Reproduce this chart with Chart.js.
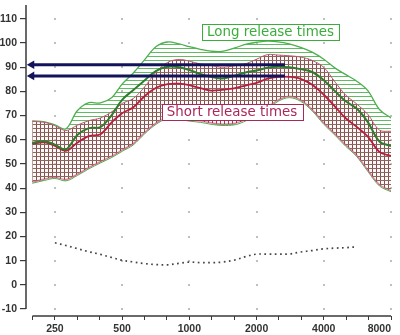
<!DOCTYPE html>
<html>
<head>
<meta charset="utf-8">
<script src="https://cdn.jsdelivr.net/npm/chart.js@4.4.1/dist/chart.umd.min.js"></script>
<style>
  html, body { margin: 0; padding: 0; background: #fff; }
  #wrap { width: 400px; height: 335px; position: relative; }
</style>
</head>
<body>
<div id="wrap"><canvas id="chart"></canvas></div>
<script>
// frequency grid (Hz), roughly 1/6 octave
const FREQ = [198, 225, 250, 280, 315, 355, 400, 450, 500, 560, 630, 710, 800, 900, 1000, 1120, 1250, 1400,
  1600, 1800, 2000, 2240, 2500, 2800, 3150, 3550, 4000, 4500, 5000, 5600, 6300, 7100, 8000];

// long release times band + median
const LONG_UPPER = [67.8, 67.4, 66.2, 64.5, 72, 75.3, 75.2, 77.5, 83, 87.5, 93, 98.5, 100.4, 99.6, 98.5, 97.4, 96.6, 96.5,
  98, 99.5, 100.3, 100.8, 100.5, 99.6, 98.2, 96.2, 93.3, 89.6, 87, 84.3, 80.3, 72.5, 69];
const LONG_LOWER = [42, 43.2, 44, 43, 45.2, 48, 50.4, 52.7, 55.2, 57.8, 62.4, 66.4, 68.7, 68.4, 67.7, 67.2, 66.4, 65.9,
  66.2, 67.9, 70.4, 72.9, 75.9, 77.4, 75.9, 71.9, 66.4, 61.8, 57.4, 53.2, 46.9, 40.9, 38.5];
const LONG_MEDIAN = [58.7, 59.4, 58, 56, 62, 64.8, 65.2, 70.3, 76.5, 80.5, 84.5, 88.5, 90.2, 90, 88.8, 87.2, 86, 85.3,
  86.5, 87.9, 88.6, 89.8, 90.2, 90, 89.2, 88, 84.6, 80, 76, 73, 67.3, 59.3, 57.4];

// short release times band + median
const SHORT_UPPER = [67.6, 67.2, 65.8, 63.8, 66, 67.9, 69, 71.6, 75, 77, 81.8, 88, 92, 93.2, 92.5, 91.3, 90.7, 90,
  90.6, 91.5, 93.3, 95.2, 95, 94.7, 94.2, 92.8, 89.9, 83.8, 78.6, 74.9, 70.5, 64, 63.5];
const SHORT_LOWER = [42.5, 43.8, 44.5, 43.6, 45.8, 48.6, 51, 53.3, 55.8, 58.4, 63, 67, 69.3, 69, 68.3, 67.8, 67, 66.5,
  66.8, 68.5, 71, 73.5, 76.5, 78, 76.5, 72.5, 67, 62.4, 58, 53.8, 47.5, 41.5, 39];
const SHORT_MEDIAN = [58.3, 58.9, 57.5, 55.4, 58.8, 61.5, 62.3, 67.3, 71, 73.3, 78, 81.5, 83, 83.2, 82.6, 81.3, 80.3, 80.6,
  81.3, 82.5, 83.5, 85.3, 86, 86, 85.2, 82.7, 78.6, 73.6, 69, 65.4, 61.3, 55, 53.3];

// dotted curve near the bottom
const DOTTED = [null, null, 17.4, 16.3, 15, 13.7, 12.6, 11.3, 10.2, 9.5, 8.8, 8.4, 8.3, 8.9, 9.4, 9.2, 9.2, 9.4,
  10.3, 11.8, 12.7, 12.7, 12.7, 12.8, 13.6, 14.2, 14.9, 15.2, 15.4, 15.7, null, null, null];

// arrows
const ARROW_LEVELS = [91, 86.4];
const ARROW_FROM = 197;
const ARROW_TO = 2680;

// axes
const X_TICKS = [198.4, 250, 315, 396.9, 500, 630, 793.7, 1000, 1260, 1587, 2000, 2520, 3175, 4000, 5040, 6350, 8000];
const X_LABELS = [250, 500, 1000, 2000, 4000, 8000];
const Y_TICKS = [-10, 0, 10, 20, 30, 40, 50, 60, 70, 80, 90, 100, 110];

const LABELS = [
  { text: 'Long release times', at: [2311, 104.6], color: '#3aae3a' },
  { text: 'Short release times', at: [1552, 71.3], color: '#a8285a' }
];

const pts = (ys) => FREQ.map((f, i) => ({ x: f, y: ys[i] })).filter(p => p.y !== null);

function makePattern(draw) {
  const c = document.createElement('canvas');
  c.width = 4; c.height = 4;
  draw(c.getContext('2d'));
  return c.getContext('2d').createPattern(c, 'repeat');
}
const hatchGreen = makePattern(g => {
  g.fillStyle = '#62bb62';
  g.fillRect(0, 0, 4, 1);
});
const crossRed = makePattern(g => {
  g.fillStyle = 'rgba(245,235,235,0.35)';
  g.fillRect(0, 0, 4, 4);
  g.fillStyle = 'rgba(120,45,55,0.6)';
  g.fillRect(0, 0, 4, 1);
  g.fillStyle = 'rgba(125,40,55,0.85)';
  g.fillRect(0, 1, 1, 3);
});

const tickFont = { family: '"Liberation Sans", Arial, sans-serif', size: 10.5, weight: 'bold' };

const decor = {
  id: 'decor',
  beforeDatasetsDraw(chart) {
    const { ctx, scales: { x, y } } = chart;
    ctx.save();
    ctx.fillStyle = '#9c9c9c';
    X_LABELS.forEach(fx => Y_TICKS.forEach(vy => {
      ctx.fillRect(Math.round(x.getPixelForValue(fx)) - 0.8, Math.round(y.getPixelForValue(vy)) - 0.8, 1.6, 1.6);
    }));
    ctx.restore();
  },
  afterDatasetsDraw(chart) {
    const { ctx, chartArea, scales: { x, y } } = chart;
    ctx.save();
    // axis lines
    ctx.strokeStyle = '#3a3a3a';
    ctx.lineWidth = 1.5;
    ctx.beginPath();
    ctx.moveTo(chartArea.left, y.getPixelForValue(-10));
    ctx.lineTo(chartArea.left, chartArea.top);
    ctx.moveTo(x.getPixelForValue(X_TICKS[0]), chartArea.bottom);
    ctx.lineTo(x.getPixelForValue(8000), chartArea.bottom);
    ctx.stroke();
    // boxed labels
    ctx.font = '13.4px "DejaVu Sans", Verdana, sans-serif';
    ctx.textAlign = 'center';
    ctx.textBaseline = 'middle';
    LABELS.forEach(l => {
      const cx = x.getPixelForValue(l.at[0]);
      const cy = y.getPixelForValue(l.at[1]);
      const w = ctx.measureText(l.text).width + 10;
      const h = 16;
      ctx.fillStyle = '#fff';
      ctx.fillRect(cx - w / 2, cy - h / 2, w, h);
      ctx.strokeStyle = l.color;
      ctx.lineWidth = 1;
      ctx.strokeRect(Math.round(cx - w / 2) + 0.5, Math.round(cy - h / 2) + 0.5, Math.round(w), h);
      ctx.fillStyle = l.color;
      ctx.fillText(l.text, cx, cy + 0.5);
    });
    ctx.restore();
  }
};

const line = (data, color, width, extra) => Object.assign({
  data: pts(data), borderColor: color, borderWidth: width, pointRadius: 0, tension: 0.35, fill: false
}, extra || {});

const datasets = [
  line(LONG_UPPER, '#4cb04c', 1.3, { fill: '+1', backgroundColor: hatchGreen, order: 5 }),
  line(LONG_LOWER, '#4cb04c', 1, { order: 5 }),
  line(SHORT_UPPER, '#c25576', 1, { fill: '+1', backgroundColor: crossRed, order: 4 }),
  line(SHORT_LOWER, '#d4708f', 1.5, { order: 4 }),
  line(DOTTED, '#444', 1.7, { borderDash: [1.7, 3.5], order: 3 }),
  line(LONG_MEDIAN, '#2e7d2e', 2, { order: 2 }),
  line(SHORT_MEDIAN, '#b51f3e', 1.8, { order: 2 })
];
ARROW_LEVELS.forEach(v => datasets.push({
  data: [{ x: ARROW_FROM, y: v }, { x: ARROW_TO, y: v }],
  borderColor: '#13135c', backgroundColor: '#13135c', borderWidth: 3,
  pointStyle: 'triangle', pointRotation: 270, pointRadius: [5, 0], pointBorderWidth: 0,
  tension: 0, order: 1
}));

new Chart(document.getElementById('chart'), {
  type: 'line',
  data: { datasets },
  options: {
    responsive: true,
    maintainAspectRatio: false,
    animation: false,
    layout: { padding: { top: 0, right: 9, bottom: 0, left: 0 } },
    plugins: { legend: { display: false }, tooltip: { enabled: false } },
    scales: {
      x: {
        type: 'logarithmic',
        min: 185.6,
        max: 8000,
        border: { display: false },
        grid: { drawOnChartArea: false, tickLength: 4, color: '#3a3a3a', lineWidth: 1 },
        ticks: {
          autoSkip: false, maxRotation: 0, align: 'inner', padding: 3,
          font: tickFont, color: '#333',
          callback: (v) => X_LABELS.includes(v) ? String(v) : ''
        },
        afterBuildTicks: (s) => { s.ticks = X_TICKS.map(v => ({ value: v })); },
        afterFit: (s) => { s.height = 19; s.paddingLeft = 0; s.paddingRight = 0; }
      },
      y: {
        min: -12.86,
        max: 115.7,
        border: { display: false },
        grid: { drawOnChartArea: false, tickLength: 6, color: '#3a3a3a', lineWidth: 1.2 },
        ticks: { padding: 3, font: tickFont, color: '#333' },
        afterBuildTicks: (s) => { s.ticks = Y_TICKS.map(v => ({ value: v })); },
        afterFit: (s) => { s.width = 26; s.paddingTop = 0; s.paddingBottom = 0; }
      }
    }
  },
  plugins: [decor]
});
</script>
</body>
</html>
